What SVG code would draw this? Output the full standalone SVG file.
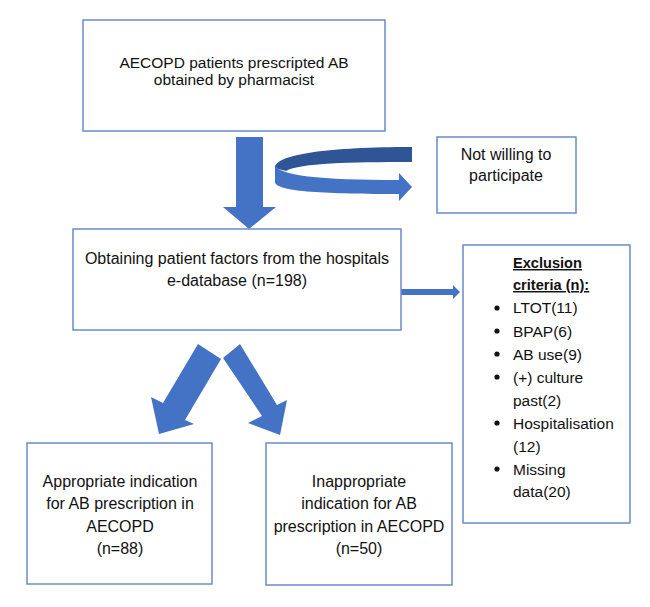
<svg xmlns="http://www.w3.org/2000/svg" width="650" height="607" viewBox="0 0 650 607">
<style>
.box{fill:#fff;stroke:#6A8CC8;stroke-width:1.5}
.t{font-family:"Liberation Sans",Arial,sans-serif;font-size:16px;fill:#111}
.s{font-size:15.5px}
.c{text-anchor:middle}
.b{font-weight:bold;text-decoration:underline;font-size:14.6px}
.arr{fill:#4472C4}
.dark{fill:#2F5597}
.dot{fill:#111}
</style>
<rect width="650" height="607" fill="#fff"/>
<g id="connectors">
<polygon class="arr" points="236,137 263,137 263,207 276,207 249,229 223,207 236,207"/>
<path class="dark" d="M412,147 L412,162 C350,162 300,163 286,171 L275,168 C275,154 330,147 412,147 Z"/>
<path class="arr" d="M275,164 C277,176 320,180 399,180 L399,173 L412,187 L399,201 L399,194 C330,194 275,192 275,182 Z"/>
<polygon class="arr" points="401,289 453,289 453,285 460,292 453,299 453,295 401,295"/>
<polygon class="arr" points="198,344 221,359 185,420 194,424 159,434 151,397 163,403"/>
<polygon class="arr" points="223,358 240,344 277,405 287,400 280,435 248,423 262,416"/>
</g>
<g id="n1">
<rect class="box" x="83" y="20" width="302" height="111"/>
<text class="t s c" x="234" y="68">AECOPD patients prescripted AB</text>
<text class="t s c" x="234" y="85">obtained by pharmacist</text>
</g>
<g id="n2">
<rect class="box" x="437" y="137" width="139" height="76"/>
<text class="t c" x="506" y="160">Not willing to</text>
<text class="t c" x="506" y="181">participate</text>
</g>
<g id="n3">
<rect class="box" x="73" y="229" width="328" height="101"/>
<text class="t c" x="237" y="264">Obtaining patient factors from the hospitals</text>
<text class="t c" x="237" y="286">e-database (n=198)</text>
</g>
<g id="n4">
<rect class="box" x="463" y="245" width="167" height="278"/>
<text class="t b" x="513" y="268">Exclusion</text>
<text class="t b" x="513" y="290">criteria (n):</text>
<g class="t s">
<circle class="dot" cx="497" cy="308" r="2.6"/><text x="513" y="313">LTOT(11)</text>
<circle class="dot" cx="497" cy="331" r="2.6"/><text x="513" y="337">BPAP(6)</text>
<circle class="dot" cx="497" cy="354" r="2.6"/><text x="513" y="360">AB use(9)</text>
<circle class="dot" cx="497" cy="377" r="2.6"/><text x="513" y="383">(+) culture</text>
<text x="513" y="406">past(2)</text>
<circle class="dot" cx="497" cy="423" r="2.6"/><text x="513" y="429">Hospitalisation</text>
<text x="513" y="452">(12)</text>
<circle class="dot" cx="497" cy="469" r="2.6"/><text x="513" y="475">Missing</text>
<text x="513" y="497">data(20)</text>
</g>
</g>
<g id="n5">
<rect class="box" x="27" y="443" width="185" height="141"/>
<text class="t c" x="120" y="487">Appropriate indication</text>
<text class="t c" x="120" y="509">for AB prescription in</text>
<text class="t c" x="120" y="532">AECOPD</text>
<text class="t c" x="120" y="554">(n=88)</text>
</g>
<g id="n6">
<rect class="box" x="266" y="443" width="186" height="142"/>
<text class="t c" x="359" y="487">Inappropriate</text>
<text class="t c" x="359" y="509">indication for AB</text>
<text class="t c" x="359" y="532">prescription in AECOPD</text>
<text class="t c" x="359" y="554">(n=50)</text>
</g>
</svg>
